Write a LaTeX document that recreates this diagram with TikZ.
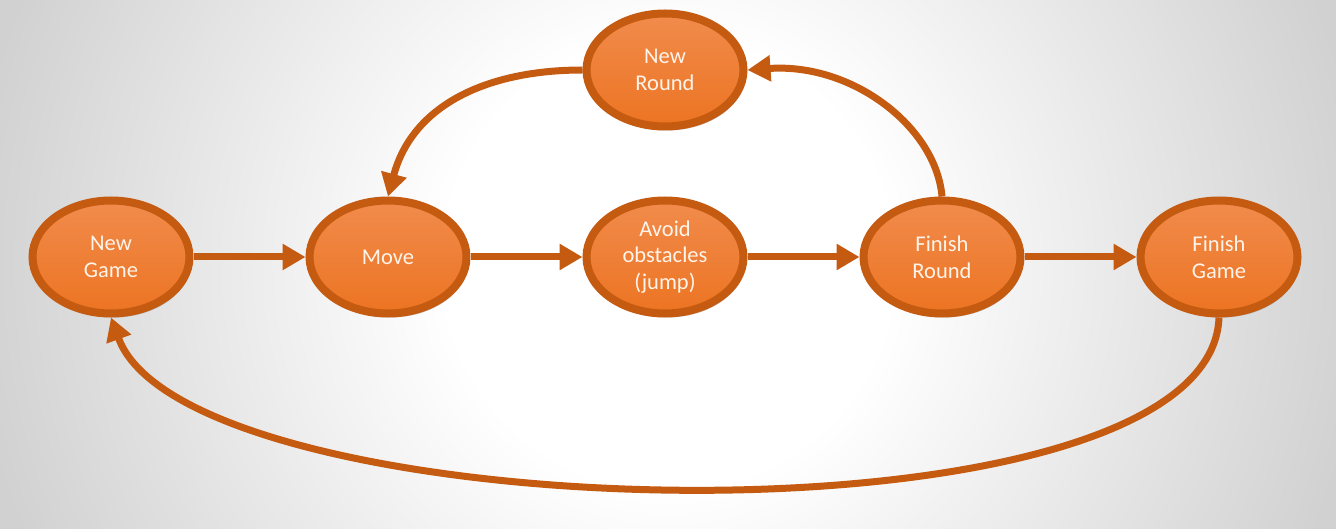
\documentclass[tikz,border=0pt]{standalone}
\usepackage{fontspec}
\setmainfont{Carlito}
\usepackage{tikz}
\usetikzlibrary{shapes.geometric,arrows.meta,positioning,shadows}
\definecolor{rim}{HTML}{C55A11}
\definecolor{fillhi}{HTML}{F18B4C}
\definecolor{filllo}{HTML}{EC7422}
\definecolor{label}{HTML}{FFF4EA}
\pgfdeclareradialshading{backdrop}{\pgfpointorigin}{color(0bp)=(white); color(8bp)=(white); color(25bp)=(black!18); color(50bp)=(black!18)}

\begin{document}
\begin{tikzpicture}[x=1pt, y=1pt, ->, >={Triangle[length=23pt,width=25pt]}, color=rim, line width=7pt, node distance=277pt]
	\tikzstyle{phase}=[ellipse, draw=rim, line width=8pt, top color=fillhi, bottom color=filllo, minimum width=157pt, minimum height=113pt, inner sep=0pt, text=label, align=center, font=\fontsize{22.5}{26.7}\selectfont, drop shadow={shadow xshift=2pt, shadow yshift=-4pt, opacity=0.22, fill=black}]
	% background
	\useasboundingbox (0,0) rectangle (1336,528);
	\begin{scope}
		\clip (0,0) rectangle (1336,528);
		\shade[shading=backdrop] (-32,-436) rectangle (1368,964);
	\end{scope}
	
	\node[phase]    (NG) at (111,271)  {New\\Game};
	\node[phase]    (MV)[right of=NG]  {Move};
	\node[phase]    (AO)[right of=MV]  {Avoid\\obstacles\\(jump)};
	\node[phase]    (FR)[right of=AO]  {Finish\\Round};
	\node[phase]    (FG)[right of=FR]  {Finish\\Game};
	\node[phase]    (NR)[above of=AO, node distance=187pt]  {New\\Round};
	
	\path
	(NG) edge (MV)
	(MV) edge (AO)
	(AO) edge (FR)
	(FR) edge (FG);
	
	\draw (NR.west) .. controls +(180:95) and +(75:95) .. (MV.north);
	\draw (FR.north) .. controls +(95:70) and +(4:105) .. (NR.east);
	\draw (FG.south) .. controls +(268:240) and +(290:228) .. (NG.south);
\end{tikzpicture}
\end{document}
